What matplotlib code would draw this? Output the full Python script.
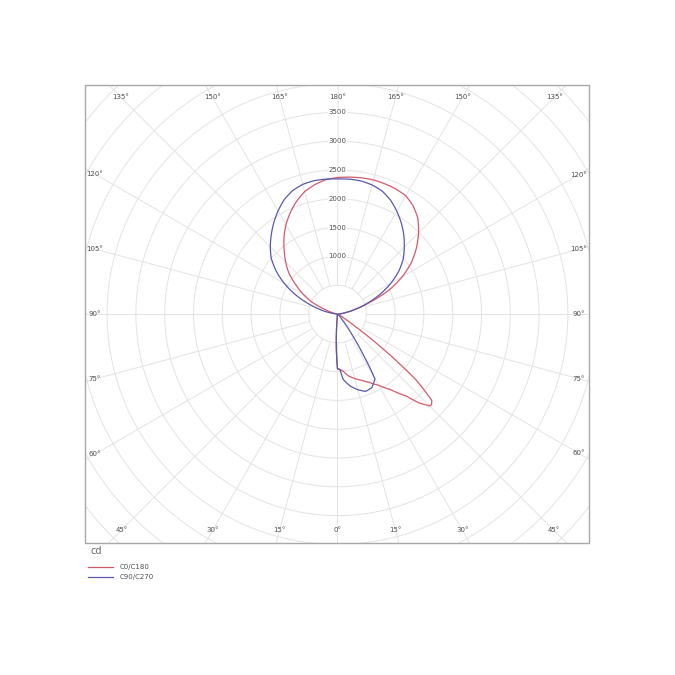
import numpy as np
import matplotlib
matplotlib.use("Agg")
import matplotlib.pyplot as plt
from matplotlib.patches import Rectangle, PathPatch
from matplotlib.path import Path
from matplotlib.lines import Line2D

# luminous intensity (cd) per C-plane, gamma measured from nadir
gamma_c0 = [0, 5, 10, 15, 20, 25, 30, 35, 40, 42.5, 45, 46, 47.5, 50, 52.5, 55, 57.5, 60, 65, 70, 75, 80, 85,
            90, 95, 100, 105, 110, 115, 120, 125, 130, 135, 140, 145, 150, 155, 160, 165, 170, 175, 180]
cd_c0 = [955, 985, 1090, 1160, 1225, 1310, 1430, 1600, 1860, 2090, 2255, 2268, 2220, 1780, 1000, 350, 120, 60, 35, 25, 20, 20, 20,
         25, 60, 140, 320, 600, 990, 1300, 1570, 1790, 1990, 2170, 2290, 2370, 2395, 2405, 2410, 2400, 2385, 2370]

gamma_c180 = [0, 5, 10, 20, 30, 40, 50, 60, 70, 80, 90, 95, 100, 105, 110, 115, 120, 125,
              130, 135, 140, 145, 150, 155, 160, 165, 170, 175, 180]
cd_c180 = [955, 30, 15, 10, 10, 8, 6, 5, 5, 5, 5, 10, 30, 90, 230, 490, 690, 880,
           1100, 1270, 1440, 1620, 1790, 1940, 2080, 2200, 2280, 2340, 2370]

gamma_c90 = [0, 2.5, 5, 10, 15, 20, 25, 30, 32.5, 35, 37.5, 40, 45, 50, 60, 70, 80, 90, 95, 100, 105,
             110, 115, 120, 125, 130, 135, 140, 145, 150, 155, 160, 165, 170, 175, 180]
cd_c90 = [950, 960, 1140, 1270, 1360, 1430, 1410, 1300, 800, 450, 230, 110, 40, 20, 15, 10, 10, 10, 40, 140, 330,
          560, 820, 1070, 1300, 1490, 1640, 1790, 1930, 2060, 2180, 2270, 2320, 2345, 2350, 2345]

gamma_c270 = [0, 5, 10, 20, 30, 40, 50, 60, 70, 80, 90, 95, 100, 105, 110, 115, 120, 125,
              130, 135, 140, 145, 150, 155, 160, 165, 170, 175, 180]
cd_c270 = [950, 20, 10, 10, 10, 10, 10, 10, 10, 10, 10, 40, 150, 330, 560, 820, 1070, 1300,
           1500, 1650, 1790, 1930, 2065, 2190, 2280, 2330, 2350, 2350, 2345]

ring_values = list(range(500, 6001, 500))
ring_labels = [1000, 1500, 2000, 2500, 3000, 3500]
spoke_angles = list(range(0, 360, 15))
label_angles = list(range(0, 181, 15))

RED = "#d4596b"
BLUE = "#5858b0"
GRID = "#e3e3e3"
TXT = "#505050"

W = 675
cx, cy = 337.5, 314.0          # pole, pixels from top-left
px_per_cd = 0.0576
rmax = 6000
R = rmax * px_per_cd

fig = plt.figure(figsize=(6.75, 6.75), dpi=100)
ax = fig.add_axes([(cx - R) / W, (W - cy - R) / W, 2 * R / W, 2 * R / W], projection="polar")
ax.set_theta_zero_location("S")
ax.set_theta_direction(1)
ax.set_ylim(0, rmax)
ax.set_xticks([])
ax.set_yticks([])
ax.grid(False)
ax.spines["polar"].set_visible(False)
ax.patch.set_visible(False)

frame = (85 / W, (W - 543) / W, 504 / W, 458 / W)
clip = Rectangle(frame[:2], frame[2], frame[3], transform=fig.transFigure, fill=False)
fig.add_artist(Rectangle(frame[:2], frame[2], frame[3], transform=fig.transFigure,
                         fill=False, ec="#a8a8a8", lw=1.0))

t_full = np.linspace(0, 2 * np.pi, 721)
for r in ring_values:
    ln, = ax.plot(t_full, np.full_like(t_full, r), color=GRID, lw=0.7, zorder=1)
    ln.set_clip_path(clip)
for a in spoke_angles:
    ln, = ax.plot([np.radians(a)] * 2, [500, rmax], color=GRID, lw=0.7, zorder=1)
    ln.set_clip_path(clip)


def plane_pair(g_right, v_right, g_left, v_left):
    th = np.concatenate([np.radians(g_right), 2 * np.pi - np.radians(g_left[::-1])])
    rr = np.concatenate([v_right, v_left[::-1]])
    return th, rr


# drawn as paths so the polar transform follows the curve between readings
for (gr, vr, gl, vl), col in [((gamma_c0, cd_c0, gamma_c180, cd_c180), RED),
                              ((gamma_c90, cd_c90, gamma_c270, cd_c270), BLUE)]:
    th, rr = plane_pair(gr, vr, gl, vl)
    p = PathPatch(Path(np.column_stack([th, rr]), _interpolation_steps=12),
                  fill=False, ec=col, lw=0.9, zorder=3, transform=ax.transData)
    ax.add_patch(p)
    p.set_clip_path(clip)

for v in ring_labels:
    ax.text(np.pi, v, str(v), ha="center", va="center", fontsize=5, color=TXT, zorder=4,
            bbox=dict(fc="white", ec="none", pad=0.2))

# angle labels sit just inside the frame, where each spoke meets it
left, right, top, bottom = 95, 579, 97, 530
for g in label_angles:
    for s in ([1] if g in (0, 180) else [1, -1]):
        dx = s * np.sin(np.radians(g))
        dy = np.cos(np.radians(g))
        ts = []
        if abs(dx) > 1e-9:
            ts.append(((right if dx > 0 else left) - cx) / dx)
        if abs(dy) > 1e-9:
            ts.append(((bottom if dy > 0 else top) - cy) / dy)
        t = min(ts)
        x, y = cx + t * dx, cy + t * dy
        fig.text(x / W, 1 - y / W, f"{g}°", ha="center", va="center", fontsize=5, color=TXT)

fig.text(91 / W, 1 - 551 / W, "cd", ha="left", va="center", fontsize=7, color="#666666")
handles = [Line2D([], [], color=RED, lw=0.9), Line2D([], [], color=BLUE, lw=0.9)]
fig.legend(handles, ["C0/C180", "C90/C270"], loc="upper left", bbox_to_anchor=(88 / W, 1 - 564 / W),
           frameon=False, fontsize=5, handlelength=3.6, handletextpad=1.0, labelspacing=0.6,
           labelcolor=TXT, borderaxespad=0, borderpad=0)

fig.savefig("out.png", dpi=100, facecolor="white")
